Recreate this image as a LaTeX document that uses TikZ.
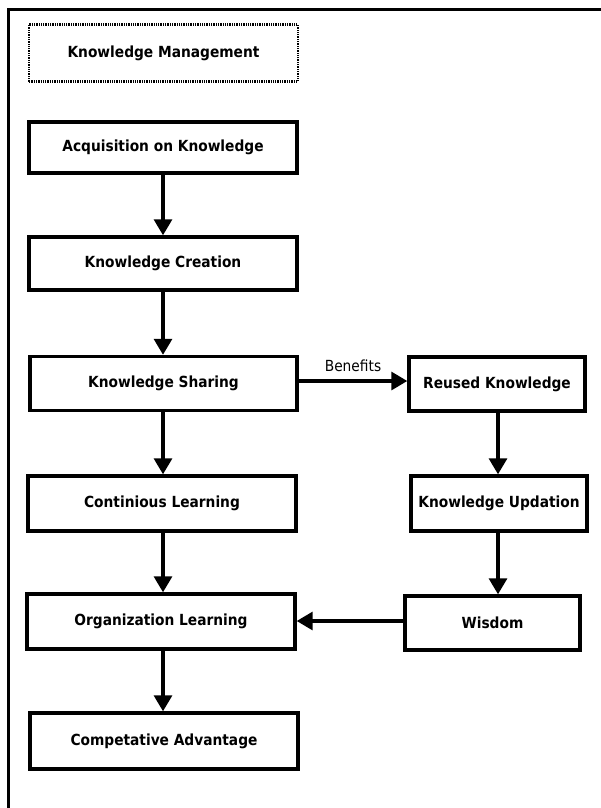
\documentclass[tikz,border=0pt]{standalone}
\usepackage{fontspec}
\setmainfont{DejaVu Sans Condensed}
\usetikzlibrary{arrows.meta}
\tikzset{
  box/.style={draw=black, line width=3.4pt, fill=white, inner sep=0pt, font=\fontsize{15.3}{18}\selectfont\bfseries},
  titlebox/.style={draw=black, line width=2.6pt, dash pattern=on 1.3pt off 1pt, inner sep=0pt, font=\fontsize{15.3}{18}\selectfont\bfseries},
  conn/.style={line width=3.2pt, -{Triangle[width=18pt,length=16pt]}},
  lbl/.style={font=\fontsize{15.3}{18}\selectfont}
}
\begin{document}
\begin{tikzpicture}[x=1pt,y=-1pt]
\useasboundingbox (0,0) rectangle (600,808);
\draw[line width=3.4pt] (8.5,812) -- (8.5,9.5) -- (604,9.5);
\node[titlebox, minimum width=269pt, minimum height=57pt] (km) at (163.5,53) {Knowledge Management};
\node[box, minimum width=268pt, minimum height=51pt] (acq) at (163,147.5) {Acquisition on Knowledge};
\node[box, minimum width=268pt, minimum height=53pt] (cre) at (163,263.5) {Knowledge Creation};
\node[box, minimum width=267pt, minimum height=54pt] (sha) at (163.5,383.5) {Knowledge Sharing};
\node[box, minimum width=268pt, minimum height=55pt] (con) at (162,503.5) {Continious Learning};
\node[box, minimum width=268pt, minimum height=55pt] (org) at (161,621.5) {Organization Learning};
\node[box, minimum width=268pt, minimum height=56pt] (comp) at (164,741) {Competative Advantage};
\node[box, minimum width=176pt, minimum height=54pt] (reu) at (497,384) {Reused Knowledge};
\node[box, minimum width=176pt, minimum height=55pt] (upd) at (499,503.5) {Knowledge Updation};
\node[box, minimum width=175pt, minimum height=54pt] (wis) at (492.5,623) {Wisdom};
\draw[conn] (acq.south -| 163,0) -- (cre.north -| 163,0);
\draw[conn] (cre.south -| 163,0) -- (sha.north -| 163,0);
\draw[conn] (sha.south -| 163,0) -- (con.north -| 163,0);
\draw[conn] (con.south -| 163,0) -- (org.north -| 163,0);
\draw[conn] (org.south -| 163,0) -- (comp.north -| 163,0);
\draw[conn] (sha.east |- 0,381) -- node[lbl, above=4pt] {Benefits} (reu.west |- 0,381);
\draw[conn] (reu.south -| 498,0) -- (upd.north -| 498,0);
\draw[conn] (upd.south -| 498,0) -- (wis.north -| 498,0);
\draw[conn] (wis.west |- 0,621) -- (org.east |- 0,621);
\end{tikzpicture}
\end{document}
